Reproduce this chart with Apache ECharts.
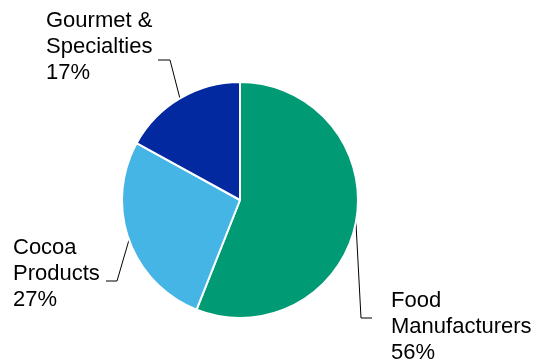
<!DOCTYPE html>
<html>
<head>
<meta charset="utf-8">
<script src="https://cdn.jsdelivr.net/npm/echarts@6/dist/echarts.min.js"></script>
<style>
  html, body { margin: 0; padding: 0; background: #fff; }
  #chart { width: 537px; height: 360px; }
</style>
</head>
<body>
<div id="chart"></div>
<script>
// data
const categories = ['Food\nManufacturers', 'Cocoa\nProducts', 'Gourmet &\nSpecialties']
const shares = [56, 27, 17]
const colors = ['#009A74', '#45B5E6', '#0229A0']

// where each label sits and where its leader line bends
const labelSpots = [
  { x: 391, y: 288, bend: [361, 318], end: [372, 318] },
  { x: 13, y: 235, bend: [117, 281], end: [106, 281] },
  { x: 46, y: 8, bend: [170, 60], end: [158, 60] }
]

const chart = echarts.init(document.getElementById('chart'))

chart.setOption({
  animation: false,
  color: colors,
  series: [{
    type: 'pie',
    center: [240, 200],
    radius: 118,
    startAngle: 90,
    clockwise: true,
    itemStyle: { borderColor: '#fff', borderWidth: 2 },
    label: {
      show: true,
      formatter: p => p.name + '\n' + p.value + '%',
      fontFamily: 'Liberation Sans, Arial, sans-serif',
      fontSize: 22,
      lineHeight: 26,
      color: '#000',
      align: 'left',
      overflow: 'none'
    },
    labelLine: {
      show: true,
      length: 20,
      length2: 10,
      lineStyle: { color: '#000', width: 1 }
    },
    labelLayout: params => {
      const s = labelSpots[params.dataIndex]
      const start = params.labelLinePoints ? params.labelLinePoints[0] : s.bend
      return {
        x: s.x,
        y: s.y,
        align: 'left',
        verticalAlign: 'top',
        labelLinePoints: [start, s.bend, s.end]
      }
    },
    data: categories.map((name, i) => ({ name: name, value: shares[i] }))
  }]
})
</script>
</body>
</html>
